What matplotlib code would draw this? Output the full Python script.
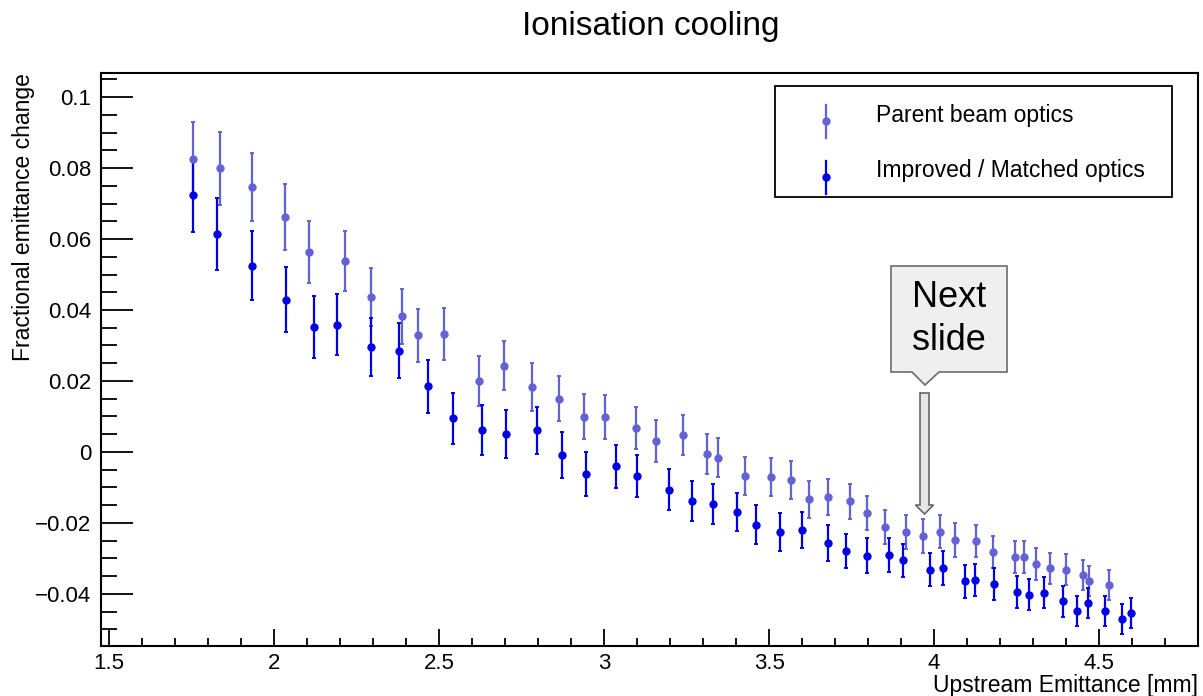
import matplotlib
matplotlib.use("Agg")
import matplotlib.pyplot as plt
from matplotlib.patches import Polygon, Rectangle
from matplotlib.ticker import MultipleLocator, FuncFormatter

plt.rcParams['font.family'] = ['Liberation Sans', 'DejaVu Sans']

# ---- data ----
parent_x = [1.754, 1.836, 1.933, 2.034, 2.106, 2.214, 2.292, 2.387, 2.435, 2.515,
            2.622, 2.697, 2.782, 2.862, 2.939, 3.003, 3.096, 3.158, 3.240, 3.313,
            3.345, 3.428, 3.506, 3.566, 3.622, 3.678, 3.745, 3.797, 3.852, 3.915,
            3.967, 4.019, 4.064, 4.128, 4.179, 4.245, 4.273, 4.309, 4.352, 4.399,
            4.452, 4.470, 4.529]
parent_y = [0.0825, 0.0799, 0.0746, 0.0662, 0.0563, 0.0539, 0.0436, 0.0382, 0.0329, 0.0333,
            0.0199, 0.0243, 0.0183, 0.0150, 0.0099, 0.0099, 0.0068, 0.0031, 0.0048, -0.0006,
            -0.0016, -0.0068, -0.0070, -0.0079, -0.0134, -0.0126, -0.0139, -0.0172, -0.0212, -0.0227,
            -0.0237, -0.0225, -0.0248, -0.0251, -0.0282, -0.0295, -0.0295, -0.0316, -0.0328, -0.0332,
            -0.0347, -0.0364, -0.0374]
parent_err = [0.0106, 0.0103, 0.0096, 0.0093, 0.0087, 0.0085, 0.0081, 0.0078, 0.0075, 0.0073,
              0.0070, 0.0069, 0.0068, 0.0063, 0.0063, 0.0062, 0.0059, 0.0058, 0.0056, 0.0056,
              0.0056, 0.0054, 0.0054, 0.0053, 0.0052, 0.0051, 0.0050, 0.0049, 0.0048, 0.0048,
              0.0047, 0.0047, 0.0047, 0.0046, 0.0045, 0.0045, 0.0045, 0.0044, 0.0044, 0.0043,
              0.0043, 0.0042, 0.0042]

improved_x = [1.755, 1.827, 1.933, 2.036, 2.122, 2.191, 2.292, 2.377, 2.466, 2.542,
              2.631, 2.703, 2.795, 2.871, 2.945, 3.037, 3.101, 3.196, 3.265, 3.330,
              3.403, 3.461, 3.533, 3.599, 3.680, 3.732, 3.798, 3.864, 3.906, 3.989,
              4.027, 4.094, 4.125, 4.182, 4.252, 4.288, 4.332, 4.390, 4.434, 4.467,
              4.518, 4.570, 4.597]
improved_y = [0.0725, 0.0615, 0.0525, 0.0429, 0.0352, 0.0359, 0.0295, 0.0285, 0.0185, 0.0095,
              0.0062, 0.0050, 0.0061, -0.0009, -0.0061, -0.0041, -0.0068, -0.0106, -0.0139, -0.0146,
              -0.0170, -0.0205, -0.0226, -0.0220, -0.0256, -0.0279, -0.0293, -0.0290, -0.0306, -0.0332,
              -0.0327, -0.0365, -0.0361, -0.0372, -0.0395, -0.0402, -0.0397, -0.0421, -0.0449, -0.0425,
              -0.0449, -0.0471, -0.0454]
improved_err = [0.0106, 0.0101, 0.0097, 0.0092, 0.0087, 0.0085, 0.0082, 0.0078, 0.0074, 0.0072,
                0.0070, 0.0068, 0.0066, 0.0064, 0.0062, 0.0061, 0.0060, 0.0058, 0.0056, 0.0056,
                0.0054, 0.0054, 0.0053, 0.0052, 0.0051, 0.0049, 0.0049, 0.0048, 0.0047, 0.0047,
                0.0047, 0.0046, 0.0045, 0.0044, 0.0044, 0.0044, 0.0044, 0.0043, 0.0042, 0.0042,
                0.0042, 0.0042, 0.0042]

labels = ["Parent beam optics", "Improved / Matched optics"]
colors = ["#6262d6", "#0000e8"]

W, H = 1203, 696
fig = plt.figure(figsize=(W / 100, H / 100), dpi=100)


def px(x, y):
    return (x / W, 1 - y / H)


ax_l, ax_r, ax_t, ax_b = 101, 1198, 73, 646
ax = fig.add_axes([ax_l / W, 1 - ax_b / H, (ax_r - ax_l) / W, (ax_b - ax_t) / H])

for xs, ys, es, c in [(parent_x, parent_y, parent_err, colors[0]),
                      (improved_x, improved_y, improved_err, colors[1])]:
    ax.errorbar(xs, ys, yerr=es, fmt='o', color=c, ms=5, elinewidth=1.6,
                capsize=1.5, capthick=1.4, mec=c, mfc=c)

ax.set_xlim(1.475, 4.8)
ax.set_ylim(-0.0547, 0.1068)

ax.xaxis.set_major_locator(MultipleLocator(0.5))
ax.xaxis.set_minor_locator(MultipleLocator(0.1))
ax.yaxis.set_major_locator(MultipleLocator(0.02))
ax.yaxis.set_minor_locator(MultipleLocator(0.005))


def fmt(v, pos):
    if abs(v) < 1e-9:
        return "0"
    return ("%g" % round(v, 4)).replace("-", "\u2212")


ax.xaxis.set_major_formatter(FuncFormatter(fmt))
ax.yaxis.set_major_formatter(FuncFormatter(fmt))

ax.tick_params(axis='x', which='major', direction='in', length=12.2, width=1.3,
               labelsize=16, pad=5, top=False)
ax.tick_params(axis='x', which='minor', direction='in', length=6.1, width=1.3, top=False)
ax.tick_params(axis='y', which='major', direction='in', length=23, width=1.3,
               labelsize=16, pad=7, right=False)
ax.tick_params(axis='y', which='minor', direction='in', length=11.5, width=1.3, right=False)
for s in ax.spines.values():
    s.set_linewidth(1.5)

ax.set_xlabel("Upstream Emittance [mm]", fontsize=16.5, loc='right')
ax.xaxis.set_label_coords(1.0, -(692 - ax_b) / (ax_b - ax_t))
ax.xaxis.label.set_va('baseline')
ax.set_ylabel("Fractional emittance change", fontsize=16.5, loc='top')
ax.yaxis.set_label_coords(-(ax_l - 24) / (ax_r - ax_l), 1.0)
ax.yaxis.label.set_va('center')

fig.text(*px(651, 27), "Ionisation cooling", fontsize=24, ha='center', va='center')

# ---- legend (drawn manually, ROOT style) ----
fig.patches.append(Rectangle(px(775, 197), (1172 - 775) / W, (197 - 86) / H,
                             transform=fig.transFigure, fill=True, fc='white',
                             ec='black', lw=1.3, zorder=5))
rows = [(121, 105, 138, 122), (177, 161, 194, 177)]
for (my, b0, b1, ty), lab, c in zip(rows, labels, colors):
    fig.add_artist(plt.Line2D([826 / W, 826 / W], [1 - b0 / H, 1 - b1 / H],
                              transform=fig.transFigure, color=c, lw=1.6, zorder=6))
    fig.add_artist(plt.Line2D([826 / W], [1 - my / H], transform=fig.transFigure,
                              marker='o', ms=5, color=c, zorder=6))
    fig.text(*px(876, ty), lab, fontsize=16.5, ha='left', va='baseline', zorder=6)

# ---- "Next slide" callout ----
callout = [(891, 266), (1007, 266), (1007, 372), (939, 372), (925, 385),
           (912, 372), (891, 372)]
fig.patches.append(Polygon([px(*p) for p in callout], closed=True,
                           transform=fig.transFigure, fc='#efefef', ec='#6b6b6b',
                           lw=1.2, zorder=7))
fig.text(*px(949, 298), "Next", fontsize=26, ha='center', va='center', zorder=8)
fig.text(*px(949, 340), "slide", fontsize=26, ha='center', va='center', zorder=8)

arrow = [(920, 393), (929, 393), (929, 505), (933.5, 505), (924.5, 514),
         (915.5, 505), (920, 505)]
fig.patches.append(Polygon([px(*p) for p in arrow], closed=True,
                           transform=fig.transFigure, fc='#e6e6e6', ec='#666666',
                           lw=1.2, zorder=7))

fig.savefig("out.png", dpi=100)
